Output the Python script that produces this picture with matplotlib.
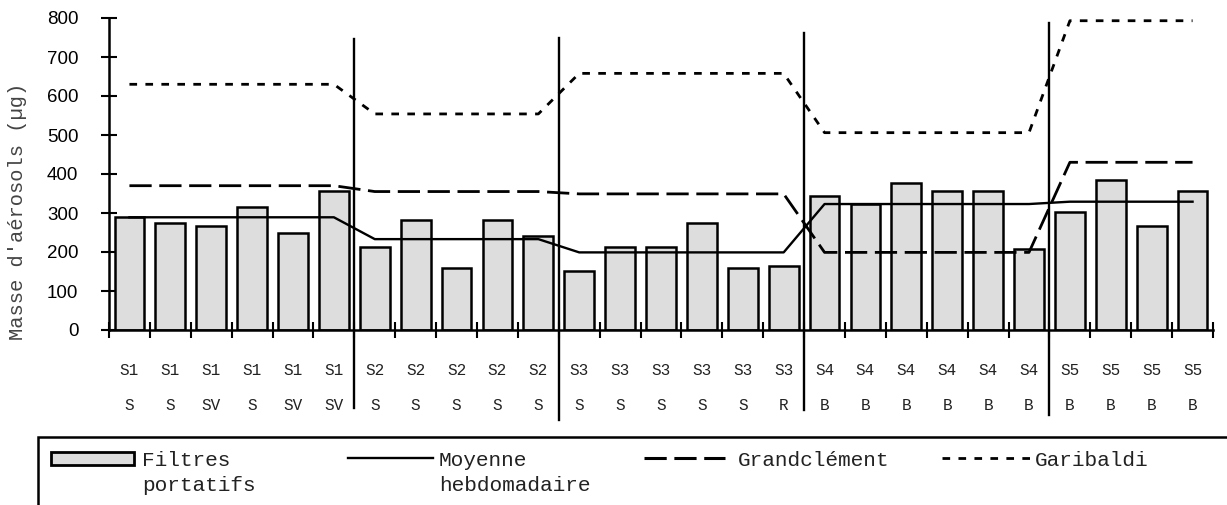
import matplotlib
matplotlib.use('Agg')
import matplotlib.pyplot as plt
from matplotlib.patches import Rectangle
from matplotlib.lines import Line2D

plt.rcParams['lines.scale_dashes'] = False

# semaines et site de prelevement pour chaque filtre
semaines = ['S1'] * 6 + ['S2'] * 5 + ['S3'] * 6 + ['S4'] * 6 + ['S5'] * 4
sites = ['S', 'S', 'SV', 'S', 'SV', 'SV',
         'S', 'S', 'S', 'S', 'S',
         'S', 'S', 'S', 'S', 'S', 'R',
         'B', 'B', 'B', 'B', 'B', 'B',
         'B', 'B', 'B', 'B']
filtres = [289, 274, 267, 315, 248, 356,
           214, 282, 159, 282, 241,
           152, 213, 213, 274, 159, 165,
           343, 323, 377, 356, 356, 207,
           303, 384, 267, 356]

# valeurs par semaine
groupes = ['S1', 'S2', 'S3', 'S4', 'S5']
moyenne = [289, 233, 199, 323, 329]
grandclement = [370, 355, 349, 199, 430]
garibaldi = [630, 554, 658, 506, 793]

W, H = 1227, 505
fig = plt.figure(figsize=(W / 100, H / 100), dpi=100)
ax = fig.add_axes([109 / W, 1 - 330 / H, 1104 / W, 312 / H])

n = len(filtres)
xs = [i + 0.5 for i in range(n)]
ax.bar(xs, filtres, width=0.73, color='#dddddd', edgecolor='black', linewidth=1.8, zorder=2)

def par_filtre(vals):
    out = []
    for g, v in zip(groupes, vals):
        out += [v] * semaines.count(g)
    return out

ax.plot(xs, par_filtre(moyenne), color='black', linewidth=1.7, zorder=3)
ax.plot(xs, par_filtre(grandclement), color='black', linewidth=2, dashes=(16, 5.5), zorder=3)
ax.plot(xs, par_filtre(garibaldi), color='black', linewidth=2, dashes=(5.5, 6), zorder=3)

ax.set_xlim(0, n)
ax.set_ylim(0, 800)
ax.set_yticks(range(0, 801, 100))
ax.set_xticks(range(0, n + 1))
ax.set_xticklabels([])
ax.tick_params(axis='both', direction='inout', length=12, width=1.5, color='black')
ax.tick_params(axis='y', pad=16, labelsize=13.5)
for lab in ax.get_yticklabels():
    lab.set_fontfamily('Liberation Sans')
for s in ['top', 'right']:
    ax.spines[s].set_visible(False)
for s in ['left', 'bottom']:
    ax.spines[s].set_linewidth(1.8)

mono = 'Liberation Mono'
for x, sem, site in zip(xs, semaines, sites):
    ax.annotate(sem, (x, 0), xytext=(0, -29), textcoords='offset points',
                ha='center', va='center', fontsize=11.5, family=mono, color='#222')
    ax.annotate(site, (x, 0), xytext=(0, -54), textcoords='offset points',
                ha='center', va='center', fontsize=11.5, family=mono, color='#222')

# separateurs entre les semaines
tops = [746, 749, 762, 787]
bots = [-200, -231, -205, -218]
pos = 0
for k, g in enumerate(groupes[:-1]):
    pos += semaines.count(g)
    ax.plot([pos, pos], [bots[k], tops[k]], color='black', linewidth=1.7,
            clip_on=False, zorder=4)

fig.text(18 / W, 1 - 211 / H, "Masse d'aérosols (µg)", rotation=90, ha='center', va='center',
         family=mono, fontsize=14.8, color='#444')

# legende
def fx(x):
    return x / W

def fy(y):
    return 1 - y / H

fig.add_artist(Rectangle((fx(38), fy(520)), fx(1250), 83 / H, fill=False,
                         edgecolor='black', linewidth=1.8, transform=fig.transFigure))
fig.add_artist(Rectangle((fx(51), fy(465)), fx(83), 13 / H, facecolor='#dddddd',
                         edgecolor='black', linewidth=2, transform=fig.transFigure))
fig.add_artist(Line2D([fx(348), fx(433)], [fy(458), fy(458)], color='black', linewidth=1.7))
fig.add_artist(Line2D([fx(644), fx(725)], [fy(458), fy(458)], color='black', linewidth=2.2,
                      dashes=(16, 5.5)))
fig.add_artist(Line2D([fx(942), fx(1032)], [fy(458), fy(458)], color='black', linewidth=2,
                      dashes=(5.5, 6)))
leg_txt = [(142, 'Filtres\nportatifs'), (439, 'Moyenne\nhebdomadaire'),
           (738, 'Grandclément'), (1035, 'Garibaldi')]
for x, t in leg_txt:
    fig.text(fx(x), fy(451), t, ha='left', va='top', family=mono, fontsize=15.2,
             color='#222', linespacing=1.4)

fig.savefig('out.png', dpi=100)
